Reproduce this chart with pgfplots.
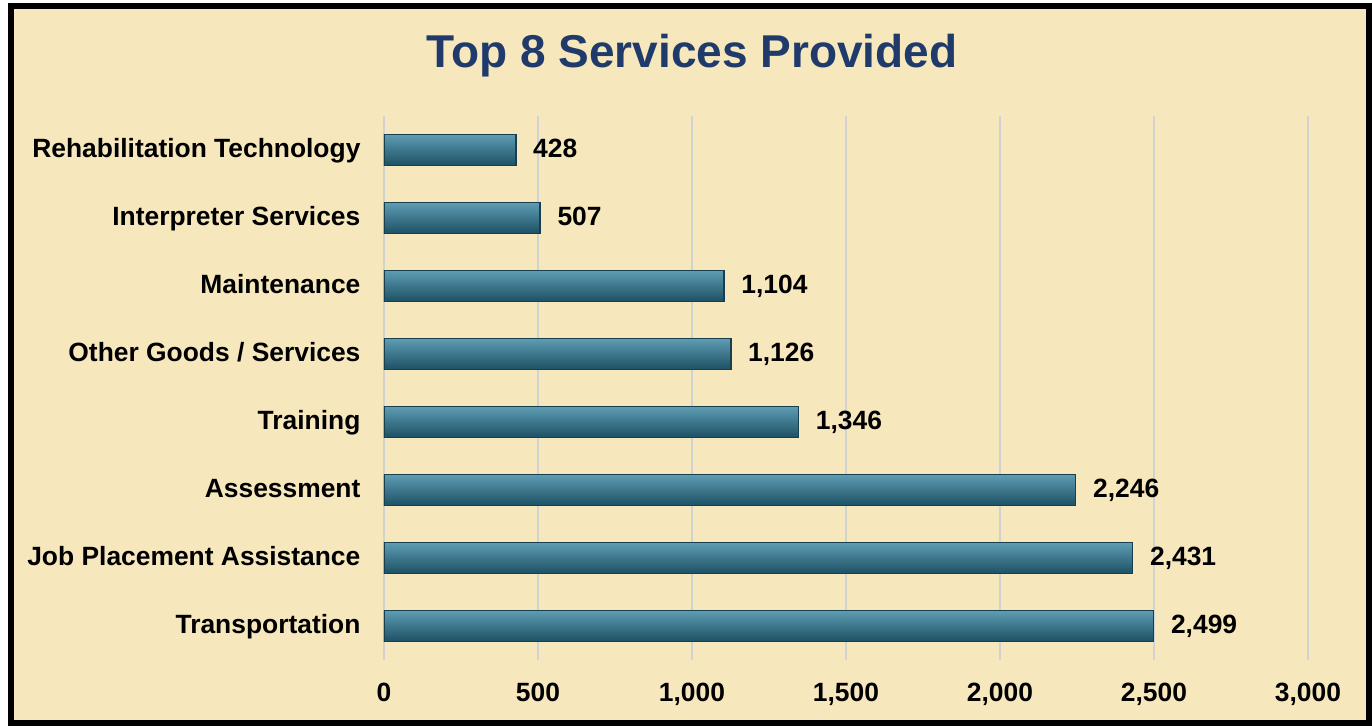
\documentclass[border=0pt]{standalone}
\usepackage{pgfplots}
\pgfplotsset{compat=1.18}
\usepackage{fontspec}
\setmainfont{Liberation Sans}
\definecolor{bg}{HTML}{F6E7BC}
\definecolor{titlec}{HTML}{1F3A6B}
\definecolor{gridc}{HTML}{D0D3D2}
\definecolor{barlight}{HTML}{5E9DB3}
\definecolor{barmid}{HTML}{2F738B}
\definecolor{bardeep}{HTML}{1D5064}
\definecolor{baredge}{HTML}{183F4E}

\pgfplotsset{
	svcbar/.style={xbar, bar shift=0pt, draw=baredge, line width=0.7pt,
		top color=barlight, middle color=barmid, bottom color=bardeep},
}

\begin{document}
\begin{tikzpicture}
	% frame and background
	\fill[white] (0pt,0pt) rectangle (686pt,363pt);
	\fill[bg] (5.3pt,1.5pt) rectangle (684.5pt,360pt);
	\draw[black, line width=3pt] (5.3pt,1.5pt) rectangle (684.5pt,360pt);
	\node[font=\bfseries\fontsize{23}{27}\selectfont, text=titlec] at (346pt,335pt) {Top 8 Services Provided};

	\begin{axis}[
		at={(192pt,33pt)}, anchor=south west,
		scale only axis,
		width=462pt, height=272pt,
		xbar, bar width=15.5pt,
		xmin=0, xmax=3000,
		ymin=-0.5, ymax=7.5,
		xtick={0,500,...,3000},
		ytick={0,...,7},
		yticklabels={Transportation, Job Placement Assistance, Assessment, Training, Other Goods / Services, Maintenance, Interpreter Services, Rehabilitation Technology},
		axis line style={draw=none},
		tick style={draw=none},
		xmajorgrids,
		grid style={gridc, line width=0.8pt},
		tick label style={font=\bfseries\fontsize{13.2}{16}\selectfont},
		yticklabel style={xshift=-4pt, text height=0.72em, text depth=0pt},
		xticklabel style={yshift=-8pt},
		scaled x ticks=false,
		/pgf/number format/assume math mode=true,
		/pgf/number format/1000 sep={,},
		point meta=x,
		nodes near coords,
		nodes near coords style={font=\bfseries\fontsize{13.2}{16}\selectfont, anchor=west, xshift=5pt, text height=0.72em, text depth=0pt},
		]
		\addplot[svcbar] coordinates {(2499,0)};
		\addplot[svcbar] coordinates {(2431,1)};
		\addplot[svcbar] coordinates {(2246,2)};
		\addplot[svcbar] coordinates {(1346,3)};
		\addplot[svcbar] coordinates {(1126,4)};
		\addplot[svcbar] coordinates {(1104,5)};
		\addplot[svcbar] coordinates {(507,6)};
		\addplot[svcbar] coordinates {(428,7)};
	\end{axis}
\end{tikzpicture}
\end{document}
